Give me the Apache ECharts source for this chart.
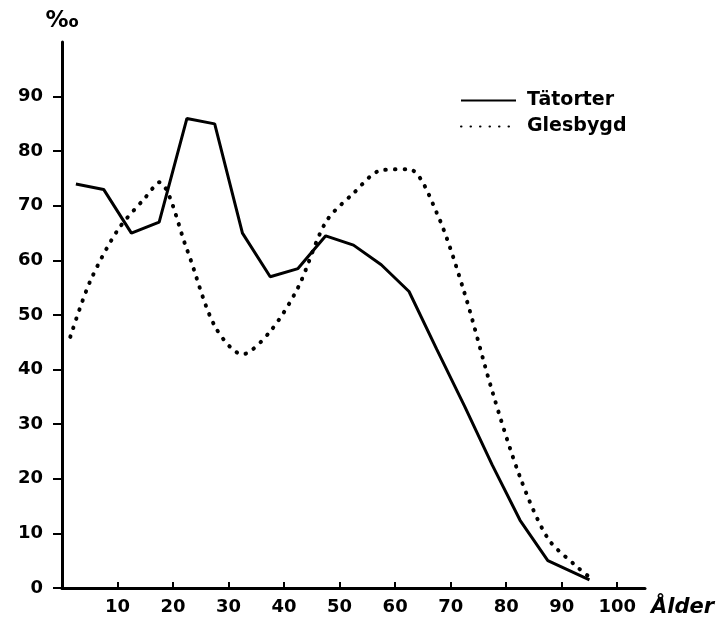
<!DOCTYPE html>
<html>
<head>
<meta charset="utf-8">
<script src="https://cdn.jsdelivr.net/npm/echarts@6/dist/echarts.min.js"></script>
<style>
  html, body { margin: 0; padding: 0; background: #fff; }
  #chart { width: 725px; height: 621px; }
</style>
</head>
<body>
<div id="chart"></div>
<script>
// age (years) and rate (per mille)
const tatorterAge = [2.5, 7.5, 12.5, 17.5, 22.5, 27.5, 32.5, 37.5, 42.5, 47.5, 52.5, 57.5, 62.5, 67.5, 72.5, 77.5, 82.5, 87.5, 95];
const tatorterVal = [74, 73, 65, 67, 86, 85, 65, 57, 58.5, 64.5, 62.8, 59.2, 54.3, 43.7, 33.3, 22.5, 12.4, 5, 1.5];

const glesbygdAge = [1.5, 5, 10, 15, 17.5, 22.5, 27.5, 32.5, 37.5, 42.5, 47.5, 52.5, 57.5, 62.5, 67.5, 72.5, 77.5, 82.5, 87.5, 92.5, 95];
const glesbygdVal = [46, 56, 65.5, 71.5, 74.3, 62, 48, 42.8, 47, 55, 67, 72.3, 76.5, 76.7, 68.7, 54, 36, 20.3, 9.1, 4.1, 2];

const xTicks = [10, 20, 30, 40, 50, 60, 70, 80, 90, 100];
const yTicks = [0, 10, 20, 30, 40, 50, 60, 70, 80, 90];

const font = "DejaVu Sans";
const pair = (xs, ys) => xs.map((x, i) => [x, ys[i]]);

const chart = echarts.init(document.getElementById("chart"), null, { renderer: "canvas" });

chart.setOption({
  animation: false,
  backgroundColor: "#fff",
  grid: { left: 62, right: 80, top: 42, bottom: 33, containLabel: false, outerBoundsMode: "none" },
  legend: {
    orient: "vertical",
    left: 455,
    top: 86,
    itemWidth: 55,
    itemHeight: 14,
    itemGap: 7,
    // hide the marker that ECharts puts in the middle of a line icon
    itemStyle: { opacity: 0 },
    data: ["Tätorter", "Glesbygd"],
    textStyle: { fontFamily: font, fontWeight: "bold", fontSize: 19, color: "#000", padding: [0, 0, 0, 6] },
  },
  xAxis: {
    type: "value",
    min: 0,
    max: 105,
    interval: 10,
    name: "Ålder",
    nameLocation: "end",
    nameGap: 6,
    nameTextStyle: { fontFamily: font, fontWeight: "bold", fontStyle: "italic", fontSize: 21, color: "#000", verticalAlign: "top", padding: [9, 0, 0, 0] },
    axisLine: { lineStyle: { color: "#000", width: 3 } },
    axisTick: { show: true, inside: true, length: 6, customValues: xTicks, lineStyle: { color: "#000", width: 2 } },
    axisLabel: { customValues: xTicks, margin: 10, fontFamily: font, fontWeight: "bold", fontSize: 18, color: "#000" },
    splitLine: { show: false },
  },
  yAxis: {
    type: "value",
    min: 0,
    max: 100,
    interval: 10,
    name: "‰",
    nameLocation: "end",
    nameGap: 9,
    nameTextStyle: { fontFamily: font, fontWeight: "bold", fontSize: 23, color: "#000", align: "center" },
    axisLine: { show: true, lineStyle: { color: "#000", width: 3 } },
    axisTick: { show: true, length: 9, customValues: yTicks, lineStyle: { color: "#000", width: 2 } },
    axisLabel: { customValues: yTicks, margin: 19, fontFamily: font, fontWeight: "bold", fontSize: 18, color: "#000" },
    splitLine: { show: false },
  },
  series: [
    {
      name: "Tätorter",
      type: "line",
      data: pair(tatorterAge, tatorterVal),
      symbol: "none",
      lineStyle: { color: "#000", width: 3 },
      itemStyle: { color: "#000" },
    },
    {
      name: "Glesbygd",
      type: "line",
      data: pair(glesbygdAge, glesbygdVal),
      symbol: "none",
      smooth: 0.3,
      lineStyle: { color: "#000", width: 4, type: [0.5, 9], cap: "round" },
      itemStyle: { color: "#000" },
    },
  ],
});
</script>
</body>
</html>
